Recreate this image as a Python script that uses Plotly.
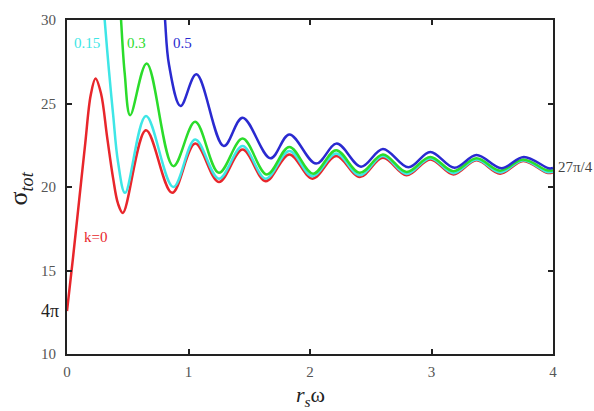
import numpy as np
import plotly.graph_objects as go

# ---- data ----
red_x = [0.0, 0.05, 0.10, 0.15, 0.195, 0.235, 0.28, 0.33, 0.38, 0.42, 0.46, 0.65, 0.865, 1.055, 1.25,
         1.445, 1.635, 1.83, 2.02, 2.215, 2.41, 2.60, 2.795, 2.99, 3.18, 3.37, 3.565, 3.755, 3.95, 4.0]
red_y = [12.57, 15.8, 19.2, 22.6, 25.5, 26.5, 25.6, 23.0, 20.5, 19.0, 18.45, 23.4, 19.65, 22.6, 20.3,
         22.25, 20.35, 21.95, 20.5, 21.85, 20.6, 21.75, 20.7, 21.65, 20.75, 21.6, 20.8, 21.55, 20.85, 20.87]

cyan_x = [0.29, 0.31, 0.345, 0.38, 0.42, 0.478, 0.65, 0.875, 1.055, 1.25, 1.445, 1.635, 1.83, 2.02, 2.215,
          2.41, 2.60, 2.795, 2.99, 3.18, 3.37, 3.565, 3.755, 3.95, 4.0]
cyan_y = [32.0, 30.0, 27.0, 24.3, 21.5, 19.65, 24.25, 20.0, 22.85, 20.5, 22.45, 20.5, 22.15, 20.65, 22.0,
          20.7, 21.85, 20.78, 21.72, 20.83, 21.65, 20.87, 21.6, 20.9, 20.92]

green_x = [0.43, 0.445, 0.475, 0.52, 0.656, 0.875, 1.055, 1.25, 1.445, 1.645, 1.83, 2.025, 2.215, 2.41,
           2.60, 2.795, 2.99, 3.18, 3.37, 3.565, 3.755, 3.95, 4.0]
green_y = [32.0, 30.0, 26.8, 24.3, 27.4, 21.25, 23.9, 20.85, 22.9, 20.75, 22.4, 20.8, 22.2, 20.85,
           21.95, 20.9, 21.8, 20.95, 21.72, 20.98, 21.65, 21.0, 21.0]

blue_x = [0.79, 0.807, 0.84, 0.935, 1.065, 1.29, 1.445, 1.675, 1.83, 2.05, 2.22, 2.42, 2.60, 2.81, 2.99,
          3.19, 3.37, 3.575, 3.76, 3.965, 4.0]
blue_y = [32.0, 30.0, 27.3, 24.85, 26.75, 22.45, 24.15, 21.72, 23.15, 21.4, 22.6, 21.22, 22.28, 21.18, 22.1,
          21.15, 21.92, 21.13, 21.8, 21.12, 21.14]

x_ticks = [0, 1, 2, 3, 4]
y_ticks = [10, 15, 20, 25, 30]

series = [
    ("k=0", red_x, red_y, "#e8262b"),
    ("0.15", cyan_x, cyan_y, "#3ee6e6"),
    ("0.3", green_x, green_y, "#2bdc2b"),
    ("0.5", blue_x, blue_y, "#2a2ad0"),
]

fig = go.Figure()
for name, xs, ys, col in series:
    fig.add_trace(go.Scatter(x=xs, y=ys, mode="lines", name=name,
                             line=dict(color=col, width=2.5, shape="spline", smoothing=1.0)))

serif = "Liberation Serif, Times New Roman, serif"
tickfont = dict(family=serif, size=15, color="#555")

fig.update_layout(
    width=594, height=411,
    margin=dict(l=67, r=41, t=14, b=57),
    paper_bgcolor="white", plot_bgcolor="white",
    showlegend=False,
    font=dict(family=serif, size=15, color="#444"),
    xaxis=dict(range=[0, 4], tickvals=x_ticks, ticks="inside", ticklen=5, tickwidth=1.5,
               tickcolor="#222", showline=True, linecolor="#222", linewidth=2, mirror="ticks",
               showgrid=False, zeroline=False, tickfont=tickfont, ticklabelstandoff=3),
    yaxis=dict(range=[10, 30], tickvals=y_ticks, ticks="inside", ticklen=5, tickwidth=1.5,
               tickcolor="#222", showline=True, linecolor="#222", linewidth=2, mirror="ticks",
               showgrid=False, zeroline=False, tickfont=tickfont, ticklabelstandoff=6),
)

# axis titles
fig.add_annotation(x=2.0, y=-0.125, xref="x", yref="paper", text="<i>r<sub>s</sub></i>ω", showarrow=False,
                   xanchor="center", yanchor="middle", font=dict(family=serif, size=22, color="#222"))
fig.add_annotation(x=-0.097, y=19.9, xref="paper", yref="y", text="σ<sub><i>tot</i></sub>", showarrow=False,
                   textangle=-90, xanchor="center", yanchor="middle",
                   font=dict(family=serif, size=26, color="#222"))

# curve labels
labels = [("0.15", 0.04, 28.6, "#3ee6e6"), ("0.3", 0.477, 28.6, "#2bdc2b"),
          ("0.5", 0.856, 28.6, "#2a2ad0"), ("k=0", 0.12, 17.0, "#e8262b")]
for txt, lx, ly, col in labels:
    fig.add_annotation(x=lx, y=ly, xref="x", yref="y", text=txt, showarrow=False,
                       xanchor="left", yanchor="middle", font=dict(family=serif, size=15, color=col))

# special values on the axes
fig.add_annotation(x=0, y=4 * np.pi, xref="paper", yref="y", text="4π", showarrow=False,
                   xanchor="right", yanchor="middle", xshift=-6, font=dict(family=serif, size=18, color="#222"))
fig.add_annotation(x=1, y=27 * np.pi / 4, xref="paper", yref="y", text="27π/4", showarrow=False,
                   xanchor="left", yanchor="middle", xshift=3, font=dict(family=serif, size=15, color="#444"))

fig.write_html("out.html")
